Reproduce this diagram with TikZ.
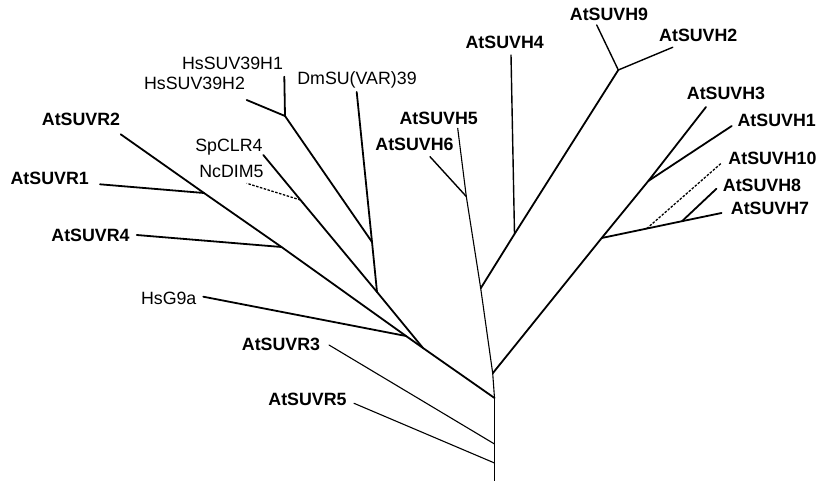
\documentclass[tikz,border=0pt]{standalone}
\usepackage{fontspec}
\setmainfont{Liberation Sans}
\begin{document}
\begin{tikzpicture}[x=1pt,y=-1pt,
  br/.style={line width=1.8pt,line cap=round,line join=round},
  midbr/.style={line width=1.4pt,line cap=round},
  thinbr/.style={line width=1.1pt,line cap=round},
  dashbr/.style={line width=1.3pt,dash pattern=on 2.5pt off 1.5pt},
  lab/.style={font=\fontsize{17.8}{20}\selectfont,inner sep=0pt,anchor=base},
  blab/.style={lab,font=\fontsize{17.8}{20}\selectfont\bfseries}]
\useasboundingbox (0,0) rectangle (819,481);

% ---- labels ----
\node[lab]  (hs1)  at (232.5,70)  {HsSUV39H1};
\node[lab]  (hs2)  at (194.5,90)  {HsSUV39H2};
\node[lab]  (dm)   at (357,85)    {DmSU(VAR)39};
\node[blab] (r2)   at (81,126)    {AtSUVR2};
\node[lab]  (sp)   at (229,152)   {SpCLR4};
\node[lab]  (ncd)  at (231.5,177.3) {NcDIM5};
\node[blab] (r1)   at (49.7,185)  {AtSUVR1};
\node[blab] (r4)   at (90.5,241.7) {AtSUVR4};
\node[lab]  (g9)   at (168.7,304) {HsG9a};
\node[blab] (r3)   at (281,350.7) {AtSUVR3};
\node[blab] (r5)   at (307.5,405.7) {AtSUVR5};
\node[blab] (h5)   at (438.7,125) {AtSUVH5};
\node[blab] (h6)   at (414.5,150.5) {AtSUVH6};
\node[blab] (h4)   at (504.7,48.3) {AtSUVH4};
\node[blab] (h9)   at (609,20.7)  {AtSUVH9};
\node[blab] (h2)   at (698.3,41.7) {AtSUVH2};
\node[blab] (h3)   at (726,100)   {AtSUVH3};
\node[blab] (h1)   at (776.7,126.7) {AtSUVH1};
\node[blab] (h10)  at (772.5,165) {AtSUVH10};
\node[blab] (h8)   at (762,191.7) {AtSUVH8};
\node[blab] (h7)   at (770,214.3) {AtSUVH7};

% ---- leaf ends ----
\coordinate (Lhs1) at (284.3,76.7);
\coordinate (Lhs2) at (246.7,100);
\coordinate (Ldm)  at (356.7,92);
\coordinate (Lr2)  at (120.7,134.3);
\coordinate (Lsp)  at (263.3,155);
\coordinate (Lncd) at (246.7,183.3);
\coordinate (Lr1)  at (100,184.3);
\coordinate (Lr4)  at (136.7,235);
\coordinate (Lg9)  at (203.3,296.7);
\coordinate (Lr3)  at (329,345);
\coordinate (Lr5)  at (354,403.3);
\coordinate (Lh5)  at (457.7,128.3);
\coordinate (Lh6)  at (430,156.7);
\coordinate (Lh4)  at (511,55);
\coordinate (Lh9)  at (596.7,25);
\coordinate (Lh2)  at (672.7,47.3);
\coordinate (Lh3)  at (706,107);
\coordinate (Lh1)  at (731.7,126);
\coordinate (Lh10) at (721.5,163);
\coordinate (Lh8)  at (716.5,188.7);
\coordinate (Lh7)  at (721.5,213);

% ---- inner nodes ----
\coordinate (rb)  at (494.5,481);
\coordinate (r0)  at (494.5,398);
\coordinate (a3)  at (494.5,444);
\coordinate (a5)  at (494.5,463);
\coordinate (L0)  at (423,348);
\coordinate (ng9) at (406,336);
\coordinate (nr4) at (281.5,247);
\coordinate (nr1) at (204,193);
\coordinate (s1)  at (377,292);
\coordinate (nnc) at (300.5,200);
\coordinate (ndm) at (372,242);
\coordinate (nhs) at (285,116);
\coordinate (c1)  at (492.7,373.3);
\coordinate (c2)  at (480.7,288.3);
\coordinate (c3)  at (466.3,196.5);
\coordinate (nh4) at (514.5,234);
\coordinate (nh9) at (618.3,70);
\coordinate (v1)  at (601.7,238);
\coordinate (v2)  at (648.3,181);
\coordinate (v3)  at (646.7,228.6);
\coordinate (v4)  at (682,221.2);

% ---- branches ----
\draw[br] (rb) -- (r0);
\draw[thinbr] (a3) -- (Lr3);
\draw[thinbr] (a5) -- (Lr5);
\draw[br] (r0) -- (L0);
\draw[br] (L0) -- (ng9) -- (nr4) -- (nr1) -- (Lr2);
\draw[br] (ng9) -- (Lg9);
\draw[br] (nr4) -- (Lr4);
\draw[br] (nr1) -- (Lr1);
\draw[br] (L0) -- (s1) -- (nnc) -- (Lsp);
\draw[dashbr] (nnc) -- (Lncd);
\draw[br] (s1) -- (ndm) -- (Ldm);
\draw[br] (ndm) -- (nhs) -- (Lhs1);
\draw[br] (nhs) -- (Lhs2);

\draw[thinbr] (r0) -- (c1) -- (c2) -- (c3) -- (Lh5);
\draw[midbr] (c3) -- (Lh6);
\draw[br] (c2) -- (nh4) -- (nh9);
\draw[midbr] (nh4) -- (Lh4);
\draw[midbr] (nh9) -- (Lh9);
\draw[midbr] (nh9) -- (Lh2);
\draw[br] (c1) -- (v1) -- (v2) -- (Lh3);
\draw[br] (v2) -- (Lh1);
\draw[br] (v1) -- (v3) -- (v4) -- (Lh7);
\draw[br] (v4) -- (Lh8);
\draw[dashbr] (v3) -- (Lh10);
\end{tikzpicture}
\end{document}
